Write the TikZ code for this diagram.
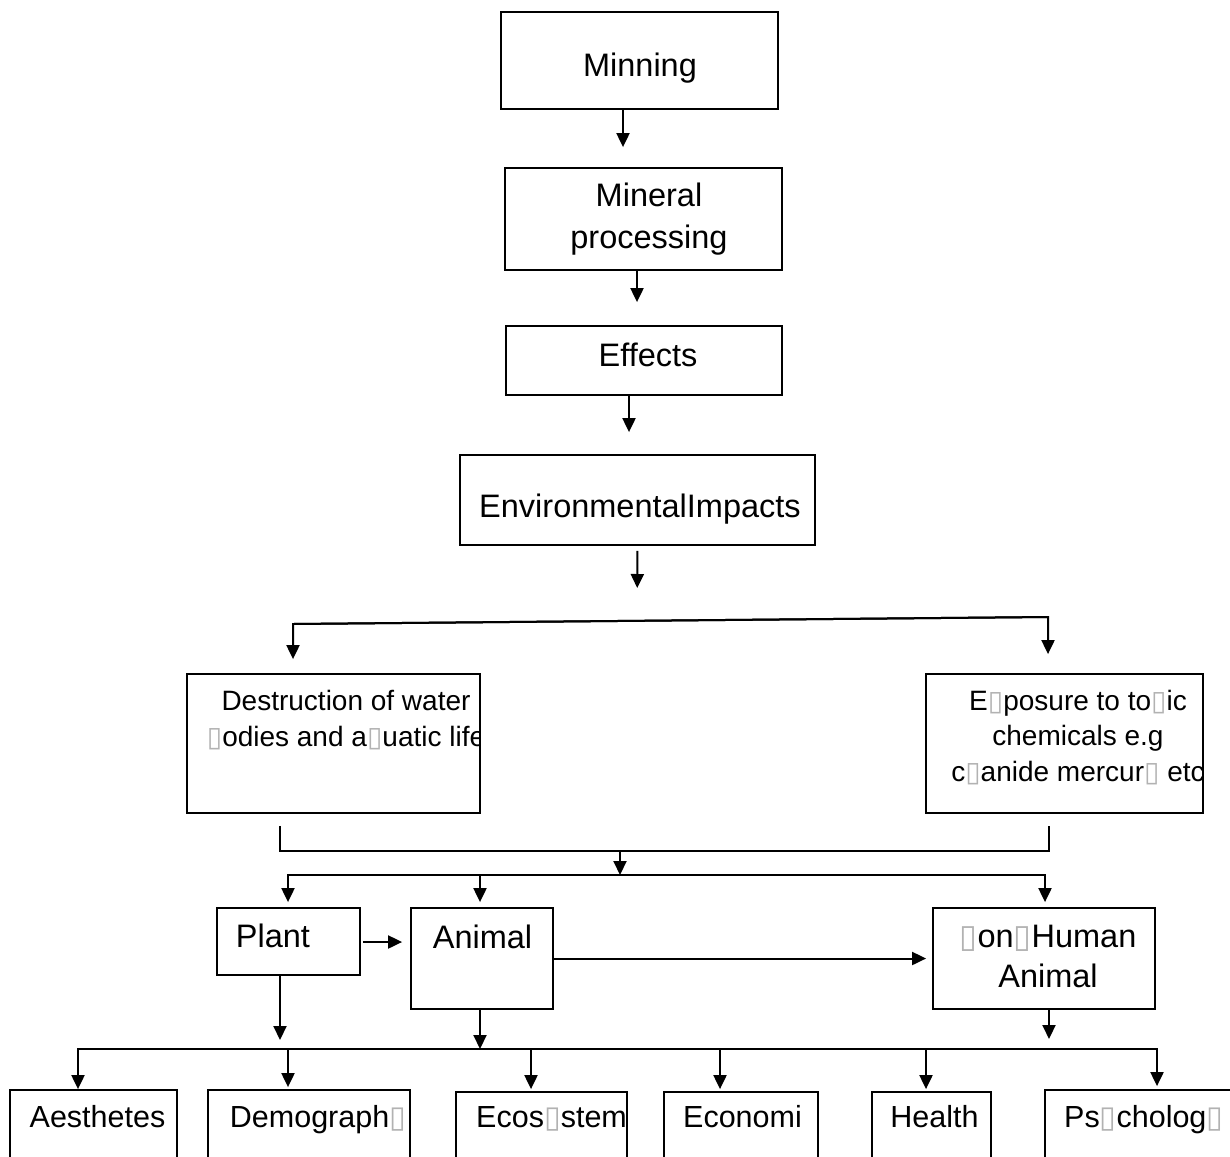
\documentclass[tikz,border=0pt]{standalone}
\usepackage{fontspec}
\setmainfont{Liberation Sans}
\newfontfamily\symfont{DejaVu Sans}
\usetikzlibrary{arrows.meta}
\newcommand\miss{{\symfont\color{black!30}▯}}

\begin{document}
\begin{tikzpicture}[x=1pt,y=-1pt]
\tikzset{
  box/.style={draw,line width=1.8pt,inner sep=0pt},
  txt/.style={inner sep=0pt,anchor=base,align=center},
  big/.style={font=\fontsize{32.5}{40}\selectfont},
  mid/.style={font=\fontsize{28}{35.5}\selectfont},
  low/.style={font=\fontsize{30.5}{36}\selectfont},
  flow/.style={-{Triangle[length=14pt,width=13pt]},line width=2pt},
  wire/.style={line width=2pt}
}
\useasboundingbox (0,0) rectangle (1230,1156);
\clip (0,0) rectangle (1230,1156);
\node[box,minimum width=277pt,minimum height=97pt] (n_mine) at (639.5,60.5) {};
\node[box,minimum width=277pt,minimum height=102pt] (n_mineral) at (643.5,219) {};
\node[box,minimum width=276pt,minimum height=69pt] (n_effects) at (644,360.5) {};
\node[box,minimum width=355pt,minimum height=90pt] (n_env) at (637.5,500) {};
\node[box,minimum width=293pt,minimum height=139pt] (n_dest) at (333.5,743.5) {};
\node[box,minimum width=277pt,minimum height=139pt] (n_expo) at (1064.5,743.5) {};
\node[box,minimum width=143pt,minimum height=67pt] (n_plant) at (288.5,941.5) {};
\node[box,minimum width=142pt,minimum height=101pt] (n_animal) at (482,958.5) {};
\node[box,minimum width=222pt,minimum height=101pt] (n_nonhuman) at (1044,958.5) {};
\node[box,minimum width=167pt,minimum height=90pt] (n_aes) at (93.5,1135) {};
\node[box,minimum width=202pt,minimum height=90pt] (n_demo) at (309,1135) {};
\node[box,minimum width=171pt,minimum height=90pt] (n_eco) at (541.5,1137) {};
\node[box,minimum width=154pt,minimum height=90pt] (n_econ) at (741,1137) {};
\node[box,minimum width=119pt,minimum height=90pt] (n_health) at (931.5,1137) {};
\node[box,minimum width=215pt,minimum height=90pt] (n_psy) at (1152.5,1135) {};

\node[txt,big] (t_mine) at (640,77) {Minning};
\node[txt,big,font=\fontsize{32.5}{42}\selectfont] (t_mineral) at (649,248) {Mineral\\processing};
\node[txt,big] (t_effects) at (648,366) {Effects};
\node[txt,big] (t_env) at (640,517) {EnvironmentalImpacts};
\begin{scope}
\clip (n_dest.south west) rectangle (n_dest.north east);
\node[txt,mid] (t_dest) at (346,746) {Destruction of water\\\miss odies and a\miss uatic life};
\end{scope}
\begin{scope}
\clip (n_expo.south west) rectangle (n_expo.north east);
\node[txt,mid] (t_expo) at (1078,781) {E\miss posure to to\miss ic\\chemicals e.g\\c\miss anide mercur\miss{} etc};
\end{scope}
\node[txt,big] (t_plant) at (273,947) {Plant};
\node[txt,big] (t_animal) at (482.5,948) {Animal};
\node[txt,big] (t_nonhuman) at (1048,987) {\miss on\miss Human\\Animal};
\node[txt,low] (t_aes) at (97.5,1127) {Aesthetes};
\node[txt,low] (t_demo) at (318,1127) {Demograph\miss};
\begin{scope}
\clip (n_eco.south west) rectangle (n_eco.north east);
\node[txt,low,anchor=base west] (t_eco) at (476,1127) {Ecos\miss stem};
\end{scope}
\node[txt,low] (t_econ) at (742.5,1127) {Economi};
\node[txt,low] (t_health) at (934.5,1127) {Health};
\node[txt,low,anchor=base west] (t_psy) at (1064,1127) {Ps\miss cholog\miss};

\coordinate (fork) at (637,620);
\coordinate (brL) at (293,624);
\coordinate (brR) at (1048,617);
\coordinate (mgL) at (280,851);
\coordinate (mgM) at (620,851);
\coordinate (mgR) at (1049,851);
\coordinate (fanL) at (288,875);
\coordinate (fanM) at (620,875);
\coordinate (fanA) at (480,875);
\coordinate (fanR) at (1045,875);
\coordinate (botL) at (78,1049);
\coordinate (botP) at (280,1049);
\coordinate (botA) at (480,1049);
\coordinate (botN) at (1049,1049);
\coordinate (botR) at (1157,1049);

\draw[flow,shorten >=20pt] (623,0 |- n_mine.south) -- (623,0 |- n_mineral.north);
\draw[flow,shorten >=23pt] (637,0 |- n_mineral.south) -- (637,0 |- n_effects.north);
\draw[flow,shorten >=22pt] (629,0 |- n_effects.south) -- (629,0 |- n_env.north);
\draw[flow,shorten <=5pt,shorten >=32pt] (n_env.south) -- (fork);
\draw[flow,shorten >=14pt] (brR) -- (brL) -- (brL |- n_dest.north);
\draw[flow,shorten >=19pt] (brL) -- (brR) -- (brR |- n_expo.north);
\draw[wire,shorten <=12pt,shorten >=12pt] (mgL |- n_dest.south) -- (mgL) -- (mgR) -- (mgR |- n_expo.south);
\draw[flow] (mgM) -- (fanM);
\draw[flow,shorten >=5pt] (fanR) -- (fanL) -- (fanL |- n_plant.north);
\draw[flow,shorten >=5pt] (fanA) -- (fanA |- n_animal.north);
\draw[flow,shorten >=5pt] (fanL) -- (fanR) -- (fanR |- n_nonhuman.north);
\draw[flow,shorten <=2pt,shorten >=8pt] (n_plant.east |- 0,942) -- (n_animal.west |- 0,942);
\draw[flow,shorten >=6pt] (n_animal.east) -- (n_animal.east -| n_nonhuman.west);
\draw[flow,shorten >=9pt] (botP |- n_plant.south) -- (botP);
\draw[flow] (botA |- n_animal.south) -- (botA);
\draw[flow,shorten >=10pt] (botN |- n_nonhuman.south) -- (botN);
\draw[flow] (botR) -- (botL) -- (botL |- n_aes.north);
\draw[flow,shorten >=3pt] (botL) -- (botR) -- (botR |- n_psy.north);
\foreach \x/\n in {288/n_demo,531/n_eco,720/n_econ,926/n_health} {
  \coordinate (c_\n) at (\x,1049);
  \draw[flow,shorten >=2pt] (c_\n) -- (c_\n |- \n.north);
}
\end{tikzpicture}
\end{document}
